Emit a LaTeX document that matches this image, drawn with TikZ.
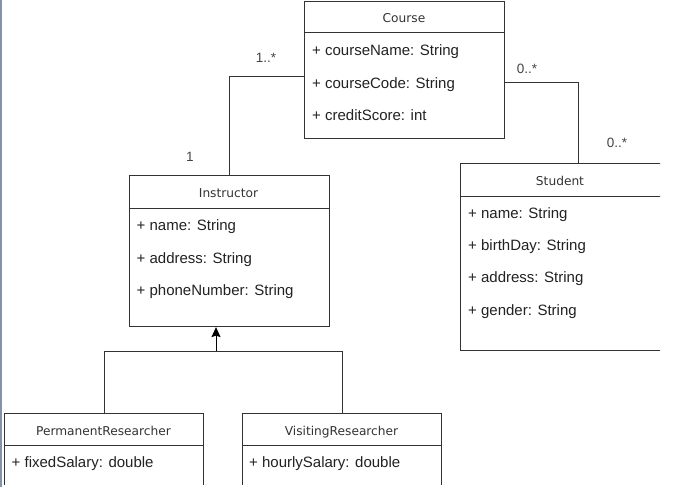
\documentclass[tikz,border=0pt]{standalone}
\usepackage{fontspec}
\setmainfont{Liberation Sans}
\newfontfamily\titlefont{DejaVu Sans}
\usetikzlibrary{arrows.meta}
\definecolor{edge}{HTML}{333333}
\definecolor{txt}{HTML}{222222}
\definecolor{ttl}{HTML}{333333}
\definecolor{lbl}{HTML}{444444}
\definecolor{scr}{HTML}{8592AA}
\begin{document}
\begin{tikzpicture}[x=1pt,y=-1pt,
  cls/.style={draw=edge, line width=1.1pt, rectangle, inner sep=0pt, anchor=north west},
  sep/.style={draw=edge, line width=1pt},
  ttlnode/.style={inner sep=0pt, anchor=base, text=ttl, font=\titlefont\fontsize{12.2}{14}\selectfont},
  attr/.style={inner sep=0pt, anchor=base west, text=txt, font=\fontsize{15}{18}\selectfont},
  mult/.style={inner sep=0pt, anchor=base, text=lbl, font=\fontsize{13.5}{16}\selectfont},
  conn/.style={draw=edge, line width=1pt},
  gen/.style={draw=black, line width=1pt, -{Stealth[length=10pt,width=9pt,inset=1.5pt]}}]
\useasboundingbox (0,0) rectangle (674,487);
\fill[white] (0,0) rectangle (674,487);
\begin{scope}
\clip (0,0) rectangle (660,484);
% boxes
\node[cls, minimum width=200pt, minimum height=137pt] (course) at (304,1) {};
\draw[sep] ([yshift=-32pt]course.north west) -- ([yshift=-32pt]course.north east);
\node[cls, minimum width=200.5pt, minimum height=151pt] (instr) at (128.5,175) {};
\draw[sep] ([yshift=-33pt]instr.north west) -- ([yshift=-33pt]instr.north east);
\node[cls, minimum width=236pt, minimum height=187pt] (student) at (460,163) {};
\draw[sep] ([yshift=-33pt]student.north west) -- ([yshift=-33pt]student.north east);
\node[cls, minimum width=199pt, minimum height=100pt] (perm) at (4,413) {};
\draw[sep] ([yshift=-32pt]perm.north west) -- ([yshift=-32pt]perm.north east);
\node[cls, minimum width=199pt, minimum height=100pt] (visit) at (242,413) {};
\draw[sep] ([yshift=-32pt]visit.north west) -- ([yshift=-32pt]visit.north east);
\end{scope}
% titles
\node[ttlnode] (courseT) at (404,22.7) {Course};
\node[ttlnode] (instrT) at (228.5,197.7) {Instructor};
\node[ttlnode] (studentT) at (560,185) {Student};
\node[ttlnode] (permT) at (103.5,435.3) {PermanentResearcher};
\node[ttlnode] (visitT) at (341.5,435.3) {VisitingResearcher};
% attributes
\node[attr] (c1) at (312,56) {+ courseName: String};
\node[attr] (c2) at (312,88.3) {+ courseCode: String};
\node[attr] (c3) at (312,120.7) {+ creditScore: int};
\node[attr] (i1) at (136.5,230.7) {+ name: String};
\node[attr] (i2) at (136.5,263.3) {+ address: String};
\node[attr] (i3) at (136.5,295.7) {+ phoneNumber: String};
\node[attr] (s1) at (468,218.3) {+ name: String};
\node[attr] (s2) at (468,250.7) {+ birthDay: String};
\node[attr] (s3) at (468,282.7) {+ address: String};
\node[attr] (s4) at (468,315) {+ gender: String};
\node[attr] (p1) at (11.5,467.7) {+ fixedSalary: double};
\node[attr] (v1) at (249,467.7) {+ hourlySalary: double};
% connectors
\draw[conn] ([yshift=-75pt]course.north west) -| (instr.north);
\draw[conn] ([yshift=-81pt]course.north east) -| (student.north);
\coordinate (j) at (216,351);
\draw[conn] (perm.north) |- (j);
\draw[conn] (visit.north) |- (j);
\draw[gen] (j) -- (j |- instr.south);
% multiplicities
\node[mult] (m1) at (266,62.7) {1..*};
\node[mult] (m2) at (190,161) {1};
\node[mult] (m3) at (527,74) {0..*};
\node[mult] (m4) at (617,147) {0..*};
% screen edge
\draw[scr, line width=2pt] (1,0) -- (1,487);
\end{tikzpicture}
\end{document}
